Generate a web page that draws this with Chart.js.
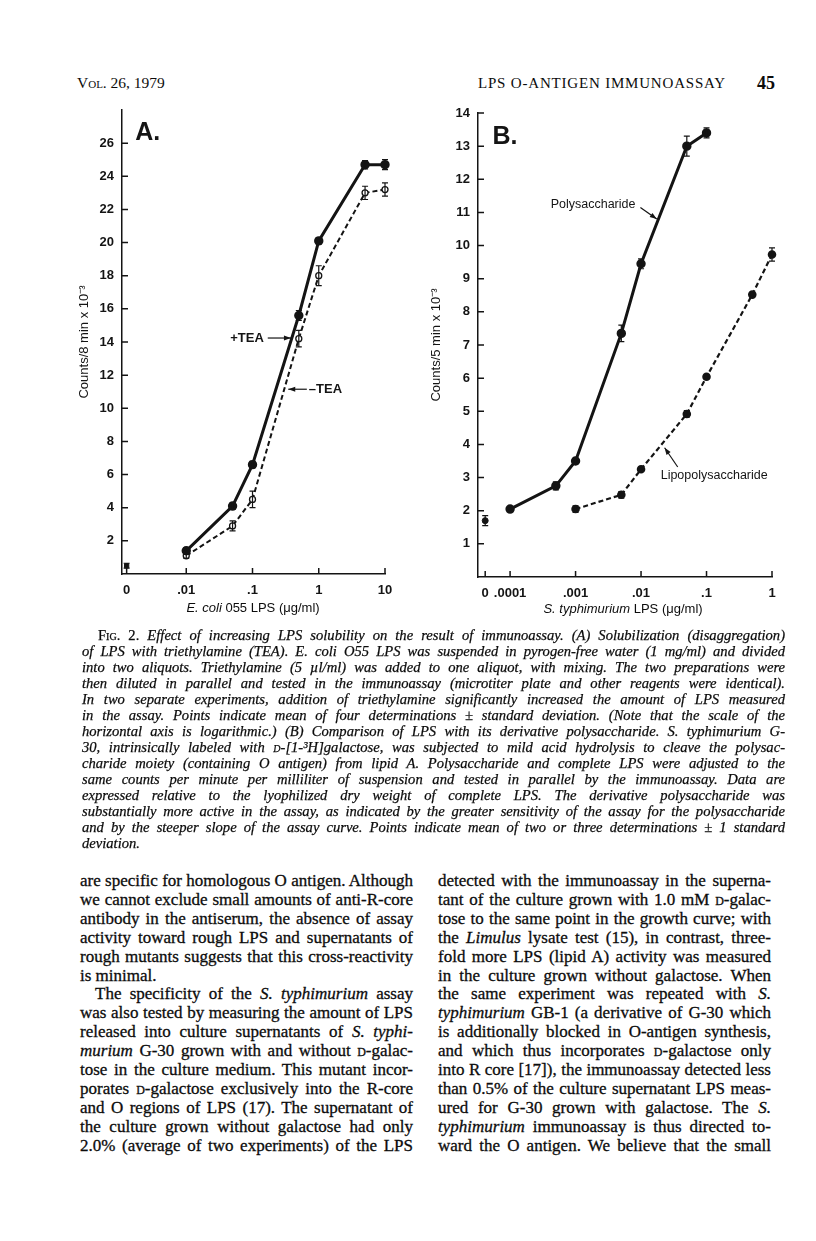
<!DOCTYPE html>
<html>
<head>
<meta charset="utf-8">
<title>Fig. 2 - LPS O-antigen immunoassay</title>
<script src="https://cdn.jsdelivr.net/npm/chart.js@4.4.1/dist/chart.umd.min.js"></script>
<style>
  body { margin: 0; background: #fff; }
  #page { position: relative; width: 816px; height: 1241px; overflow: hidden; background: #fff; color: #0c0c0c; }
  .ln { position: absolute; white-space: nowrap; display: inline-block; }
  .serif { font-family: "Liberation Serif", "Times New Roman", serif; }
  .sans { font-family: "Liberation Sans", Arial, sans-serif; }
  .sc { font-variant: small-caps; }
  .up { font-style: normal; }
  .cap { font-style: italic; font-size: 14.6px; line-height: 16px; -webkit-text-stroke: 0.25px #0c0c0c; }
  .txt { font-size: 17px; line-height: 19px; -webkit-text-stroke: 0.3px #0c0c0c; }
  canvas { position: absolute; }
</style>
</head>
<body>
<div id="page">
  <div class="ln serif" id="hdrVol" style="left:77px;top:74px;font-size:15.5px;line-height:18px;"><span class="sc">Vol.</span> 26, 1979</div>
  <div class="ln serif" id="hdrTitle" style="left:478px;top:74px;font-size:15px;line-height:18px;">LPS O-ANTIGEN IMMUNOASSAY</div>
  <div class="ln serif" style="left:757px;top:73px;font-size:18px;line-height:20px;font-weight:bold;">45</div>

  <canvas id="chartA" width="357" height="504" style="left:40px;top:100px;"></canvas>
  <canvas id="chartB" width="362" height="507" style="left:420px;top:100px;"></canvas>

  <div class="ln sans" style="left:253px;top:600px;font-size:13px;line-height:16px;transform:translateX(-50%);"><i>E. coli</i> 055 LPS (μg/ml)</div>
  <div class="ln sans" style="left:623px;top:601px;font-size:13px;line-height:16px;transform:translateX(-50%);"><i>S. typhimurium</i> LPS (μg/ml)</div>
</div>

<script>
// ---- panel A: E. coli 055 LPS, with / without triethylamine
const concA = [0.01, 0.05, 0.1, 0.5, 1, 5, 10];
const plusTEA = [1.4, 4.1, 6.6, 15.6, 20.1, 24.7, 24.7];
const plusTEAErr = [0.2, 0.2, 0.2, 0.3, 0.2, 0.25, 0.3];
const minusTEA = [1.1, 2.9, 4.5, 14.2, 18.0, 23.0, 23.2];
const minusTEAErr = [0.15, 0.3, 0.5, 0.5, 0.6, 0.4, 0.4];
const blankA = [0.5];
const blankAErr = [0.15];
const xTickConcA = [0, 0.01, 0.1, 1, 10];
const xTickLabelsA = ['0', '.01', '.1', '1', '10'];

// ---- panel B: S. typhimurium polysaccharide vs LPS
const concPoly = [0.0001, 0.0005, 0.001, 0.005, 0.01, 0.05, 0.1];
const poly = [2.05, 2.75, 3.5, 7.35, 9.45, 13.0, 13.4];
const polyErr = [0, 0.12, 0.08, 0.25, 0.15, 0.3, 0.15];
const concLps = [0.001, 0.005, 0.01, 0.05, 0.1, 0.5, 1];
const lps = [2.05, 2.48, 3.25, 4.92, 6.04, 8.52, 9.73];
const lpsErr = [0.1, 0.1, 0, 0.1, 0.06, 0, 0.2];
const blankB = [1.7];
const blankBErr = [0.15];
const xTickConcB = [0, 0.0001, 0.001, 0.01, 0.1, 1];
const xTickLabelsB = ['0', '.0001', '.001', '.01', '.1', '1'];

const INK = '#141414';
const ZERO_A = -2.9;   // where "0" sits on the broken log axis
const ZERO_B = -4.38;

// concentration -> log position (0 goes to the axis break)
function lx(c, zero) { return c === 0 ? zero : Math.log10(c); }
function pts(conc, vals, zero) { return conc.map((c, i) => ({ x: lx(c, zero), y: vals[i] })); }

// error bars, inward tick marks, labels and arrows
const paper = {
  id: 'paper',
  afterDatasetsDraw(chart, args, opts) {
    const ctx = chart.ctx, x = chart.scales.x, y = chart.scales.y;
    ctx.save();
    ctx.strokeStyle = INK;
    ctx.fillStyle = INK;
    ctx.lineWidth = 1.2;
    chart.data.datasets.forEach(ds => {
      if (!ds.errors) return;
      ds.data.forEach((p, j) => {
        const e = ds.errors[j];
        if (!e) return;
        const px = x.getPixelForValue(p.x);
        const t = y.getPixelForValue(p.y + e), b = y.getPixelForValue(p.y - e);
        ctx.beginPath();
        ctx.moveTo(px, t); ctx.lineTo(px, b);
        ctx.moveTo(px - 3, t); ctx.lineTo(px + 3, t);
        ctx.moveTo(px - 3, b); ctx.lineTo(px + 3, b);
        ctx.stroke();
      });
    });

    const len = opts.tickLen || 6;
    ctx.lineWidth = 1.5;
    ctx.beginPath();
    x.ticks.forEach(t => {
      const px = x.getPixelForValue(t.value);
      ctx.moveTo(px, x.top); ctx.lineTo(px, x.top - len);
    });
    y.ticks.forEach(t => {
      if (t.label === '' || t.label === undefined) return;
      const py = y.getPixelForValue(t.value);
      ctx.moveTo(y.right, py); ctx.lineTo(y.right + len, py);
    });
    ctx.stroke();

    (opts.notes || []).forEach(n => {
      ctx.font = n.font;
      ctx.textAlign = n.align || 'left';
      ctx.textBaseline = 'middle';
      ctx.fillText(n.text, x.getPixelForValue(n.x), y.getPixelForValue(n.y));
    });

    ctx.lineWidth = 1.2;
    (opts.arrows || []).forEach(a => {
      const x1 = x.getPixelForValue(a.from[0]), y1 = y.getPixelForValue(a.from[1]);
      const x2 = x.getPixelForValue(a.to[0]), y2 = y.getPixelForValue(a.to[1]);
      const ang = Math.atan2(y2 - y1, x2 - x1);
      ctx.beginPath();
      ctx.moveTo(x1, y1); ctx.lineTo(x2, y2);
      ctx.stroke();
      ctx.beginPath();
      ctx.moveTo(x2, y2);
      ctx.lineTo(x2 - 7 * Math.cos(ang) + 2.5 * Math.sin(ang), y2 - 7 * Math.sin(ang) - 2.5 * Math.cos(ang));
      ctx.lineTo(x2 - 7 * Math.cos(ang) - 2.5 * Math.sin(ang), y2 - 7 * Math.sin(ang) + 2.5 * Math.cos(ang));
      ctx.closePath();
      ctx.fill();
    });
    ctx.restore();
  }
};

const tickFont = { family: 'Liberation Sans', size: 13, weight: 'bold' };
const titleFont = { family: 'Liberation Sans', size: 13 };

function axes(opt) {
  return {
    x: {
      type: 'linear', min: opt.xmin, max: opt.xmax,
      afterFit: s => { s.height = 30; s.paddingLeft = 0; s.paddingRight = 0; },
      afterBuildTicks: s => { s.ticks = opt.xTicks.map(v => ({ value: v })); },
      ticks: { callback: (v, i) => opt.xLabels[i], autoSkip: false, maxRotation: 0, padding: 9, color: INK, font: tickFont },
      grid: { drawOnChartArea: false, drawTicks: false },
      border: { color: INK, width: 1.5 }
    },
    y: {
      min: 0, max: opt.ymax,
      afterFit: s => { s.width = opt.yWidth; s.paddingTop = 0; s.paddingBottom = 0; },
      ticks: { stepSize: opt.yStep, callback: opt.yLabel, padding: 8, color: INK, font: tickFont },
      grid: { drawOnChartArea: false, drawTicks: false },
      border: { color: INK, width: 1.5 },
      title: { display: true, text: opt.yTitle, color: INK, font: titleFont, padding: { top: opt.titlePad, bottom: 0 } }
    }
  };
}

new Chart(document.getElementById('chartA'), {
  type: 'line',
  data: {
    datasets: [
      { label: '+TEA', data: pts(concA, plusTEA, ZERO_A), errors: plusTEAErr, clip: false,
        borderColor: INK, borderWidth: 3, pointRadius: 3.2, pointBackgroundColor: INK, pointBorderColor: INK },
      { label: '-TEA', data: pts(concA, minusTEA, ZERO_A), errors: minusTEAErr, clip: false,
        borderColor: INK, borderWidth: 2, borderDash: [5, 3], pointRadius: 3, pointBackgroundColor: '#fff',
        pointBorderColor: INK, pointBorderWidth: 1.3 },
      { label: 'blank', data: pts([0], blankA, ZERO_A), errors: blankAErr, showLine: false, clip: false,
        pointStyle: 'rect', pointRadius: 3, pointBackgroundColor: INK, pointBorderColor: INK }
    ]
  },
  options: {
    responsive: false, animation: false,
    layout: { padding: { top: 10, right: 12, left: 0, bottom: 0 } },
    scales: axes({
      xmin: -2.97, xmax: 1.0, xTicks: xTickConcA.map(c => lx(c, ZERO_A)), xLabels: xTickLabelsA,
      ymax: 28, yStep: 2, yWidth: 82, titlePad: 37, yTitle: 'Counts/8 min x 10⁻³',
      yLabel: v => (v > 0 && v < 28) ? String(v) : ''
    }),
    plugins: {
      legend: { display: false },
      tooltip: { enabled: false },
      paper: {
        notes: [
          { text: 'A.', x: -2.77, y: 26.6, font: 'bold 25px "Liberation Sans"' },
          { text: '+TEA', x: -0.83, y: 14.24, font: 'bold 13px "Liberation Sans"', align: 'right' },
          { text: '–TEA', x: -0.15, y: 11.15, font: 'bold 13px "Liberation Sans"' }
        ],
        arrows: [
          { from: [-0.77, 14.24], to: [-0.42, 14.24] },
          { from: [-0.18, 11.15], to: [-0.46, 11.15] }
        ]
      }
    }
  },
  plugins: [paper]
});

new Chart(document.getElementById('chartB'), {
  type: 'line',
  data: {
    datasets: [
      { label: 'Polysaccharide', data: pts(concPoly, poly, ZERO_B), errors: polyErr, clip: false,
        borderColor: INK, borderWidth: 3, pointRadius: 3.2, pointBackgroundColor: INK, pointBorderColor: INK },
      { label: 'Lipopolysaccharide', data: pts(concLps, lps, ZERO_B), errors: lpsErr, clip: false,
        borderColor: INK, borderWidth: 2.2, borderDash: [5, 3], pointRadius: 3.2, pointBackgroundColor: INK,
        pointBorderColor: INK },
      { label: 'blank', data: pts([0], blankB, ZERO_B), errors: blankBErr, showLine: false, clip: false,
        pointRadius: 3, pointBackgroundColor: INK, pointBorderColor: INK }
    ]
  },
  options: {
    responsive: false, animation: false,
    layout: { padding: { top: 13, right: 10, left: 0, bottom: 0 } },
    scales: axes({
      xmin: -4.49, xmax: 0, xTicks: xTickConcB.map(c => lx(c, ZERO_B)), xLabels: xTickLabelsB,
      ymax: 14, yStep: 1, yWidth: 58, titlePad: 9, yTitle: 'Counts/5 min x 10⁻³',
      yLabel: v => v > 0 ? String(v) : ''
    }),
    plugins: {
      legend: { display: false },
      tooltip: { enabled: false },
      paper: {
        notes: [
          { text: 'B.', x: -4.27, y: 13.26, font: 'bold 25px "Liberation Sans"' },
          { text: 'Polysaccharide', x: -3.38, y: 11.24, font: '12.5px "Liberation Sans"' },
          { text: 'Lipopolysaccharide', x: -1.70, y: 3.05, font: '12.5px "Liberation Sans"' }
        ],
        arrows: [
          { from: [-2.01, 11.15], to: [-1.76, 10.8] },
          { from: [-1.44, 3.32], to: [-1.64, 3.9] }
        ]
      }
    }
  },
  plugins: [paper]
});

// ---- caption and body text, one element per printed line
const captionLines = [
  '<span class="up"><span class="sc">Fig.</span> 2.</span> Effect of increasing LPS solubility on the result of immunoassay. (A) Solubilization (disaggregation)',
  'of LPS with triethylamine (TEA). E. coli O55 LPS was suspended in pyrogen-free water (1 mg/ml) and divided',
  'into two aliquots. Triethylamine (5 µl/ml) was added to one aliquot, with mixing. The two preparations were',
  'then diluted in parallel and tested in the immunoassay (microtiter plate and other reagents were identical).',
  'In two separate experiments, addition of triethylamine significantly increased the amount of LPS measured',
  'in the assay. Points indicate mean of four determinations ± standard deviation. (Note that the scale of the',
  'horizontal axis is logarithmic.) (B) Comparison of LPS with its derivative polysaccharide. S. typhimurium G-',
  '30, intrinsically labeled with <span class="sc">d</span>-[1-³H]galactose, was subjected to mild acid hydrolysis to cleave the polysac-',
  'charide moiety (containing O antigen) from lipid A. Polysaccharide and complete LPS were adjusted to the',
  'same counts per minute per milliliter of suspension and tested in parallel by the immunoassay. Data are',
  'expressed relative to the lyophilized dry weight of complete LPS. The derivative polysaccharide was',
  'substantially more active in the assay, as indicated by the greater sensitivity of the assay for the polysaccharide',
  'and by the steeper slope of the assay curve. Points indicate mean of two or three determinations ± 1 standard',
  'deviation.'
];
const leftLines = [
  'are specific for homologous O antigen. Although',
  'we cannot exclude small amounts of anti-R-core',
  'antibody in the antiserum, the absence of assay',
  'activity toward rough LPS and supernatants of',
  'rough mutants suggests that this cross-reactivity',
  'is minimal.',
  'The specificity of the <i>S. typhimurium</i> assay',
  'was also tested by measuring the amount of LPS',
  'released into culture supernatants of <i>S. typhi-</i>',
  '<i>murium</i> G-30 grown with and without <span class="sc">d</span>-galac-',
  'tose in the culture medium. This mutant incor-',
  'porates <span class="sc">d</span>-galactose exclusively into the R-core',
  'and O regions of LPS (17). The supernatant of',
  'the culture grown without galactose had only',
  '2.0% (average of two experiments) of the LPS'
];
const rightLines = [
  'detected with the immunoassay in the superna-',
  'tant of the culture grown with 1.0 mM <span class="sc">d</span>-galac-',
  'tose to the same point in the growth curve; with',
  'the <i>Limulus</i> lysate test (15), in contrast, three-',
  'fold more LPS (lipid A) activity was measured',
  'in the culture grown without galactose. When',
  'the same experiment was repeated with <i>S.</i>',
  '<i>typhimurium</i> GB-1 (a derivative of G-30 which',
  'is additionally blocked in O-antigen synthesis,',
  'and which thus incorporates <span class="sc">d</span>-galactose only',
  'into R core [17]), the immunoassay detected less',
  'than 0.5% of the culture supernatant LPS meas-',
  'ured for G-30 grown with galactose. The <i>S.</i>',
  '<i>typhimurium</i> immunoassay is thus directed to-',
  'ward the O antigen. We believe that the small'
];

const page = document.getElementById('page');

function addLine(html, cls, left, top, width, justify) {
  const el = document.createElement('div');
  el.className = 'ln serif ' + cls;
  el.style.left = left + 'px';
  el.style.top = top + 'px';
  el.innerHTML = html;
  page.appendChild(el);
  let w = el.getBoundingClientRect().width;
  if (w > width) {
    const fs = parseFloat(getComputedStyle(el).fontSize);
    el.style.fontSize = (fs * width / w * 0.995) + 'px';
    w = el.getBoundingClientRect().width;
  }
  const spaces = (el.textContent.match(/ /g) || []).length;
  if (justify && spaces) el.style.wordSpacing = ((width - w) / spaces) + 'px';
}

captionLines.forEach((s, i) => {
  const first = i === 0, last = i === captionLines.length - 1;
  addLine(s, 'cap', first ? 98 : 82, 627 + i * 16, first ? 687 : 703, !last);
});
leftLines.forEach((s, i) => {
  const indent = i === 6;
  addLine(s, 'txt', indent ? 95 : 80, 871 + i * 18.9, indent ? 318 : 333, i !== 5);
});
rightLines.forEach((s, i) => {
  addLine(s, 'txt', 438, 871 + i * 18.9, 333, true);
});

// header running title stretched to its printed width
const hdr = document.getElementById('hdrTitle');
const hw = hdr.getBoundingClientRect().width;
hdr.style.letterSpacing = ((248 - hw) / hdr.textContent.length) + 'px';
</script>
</body>
</html>
